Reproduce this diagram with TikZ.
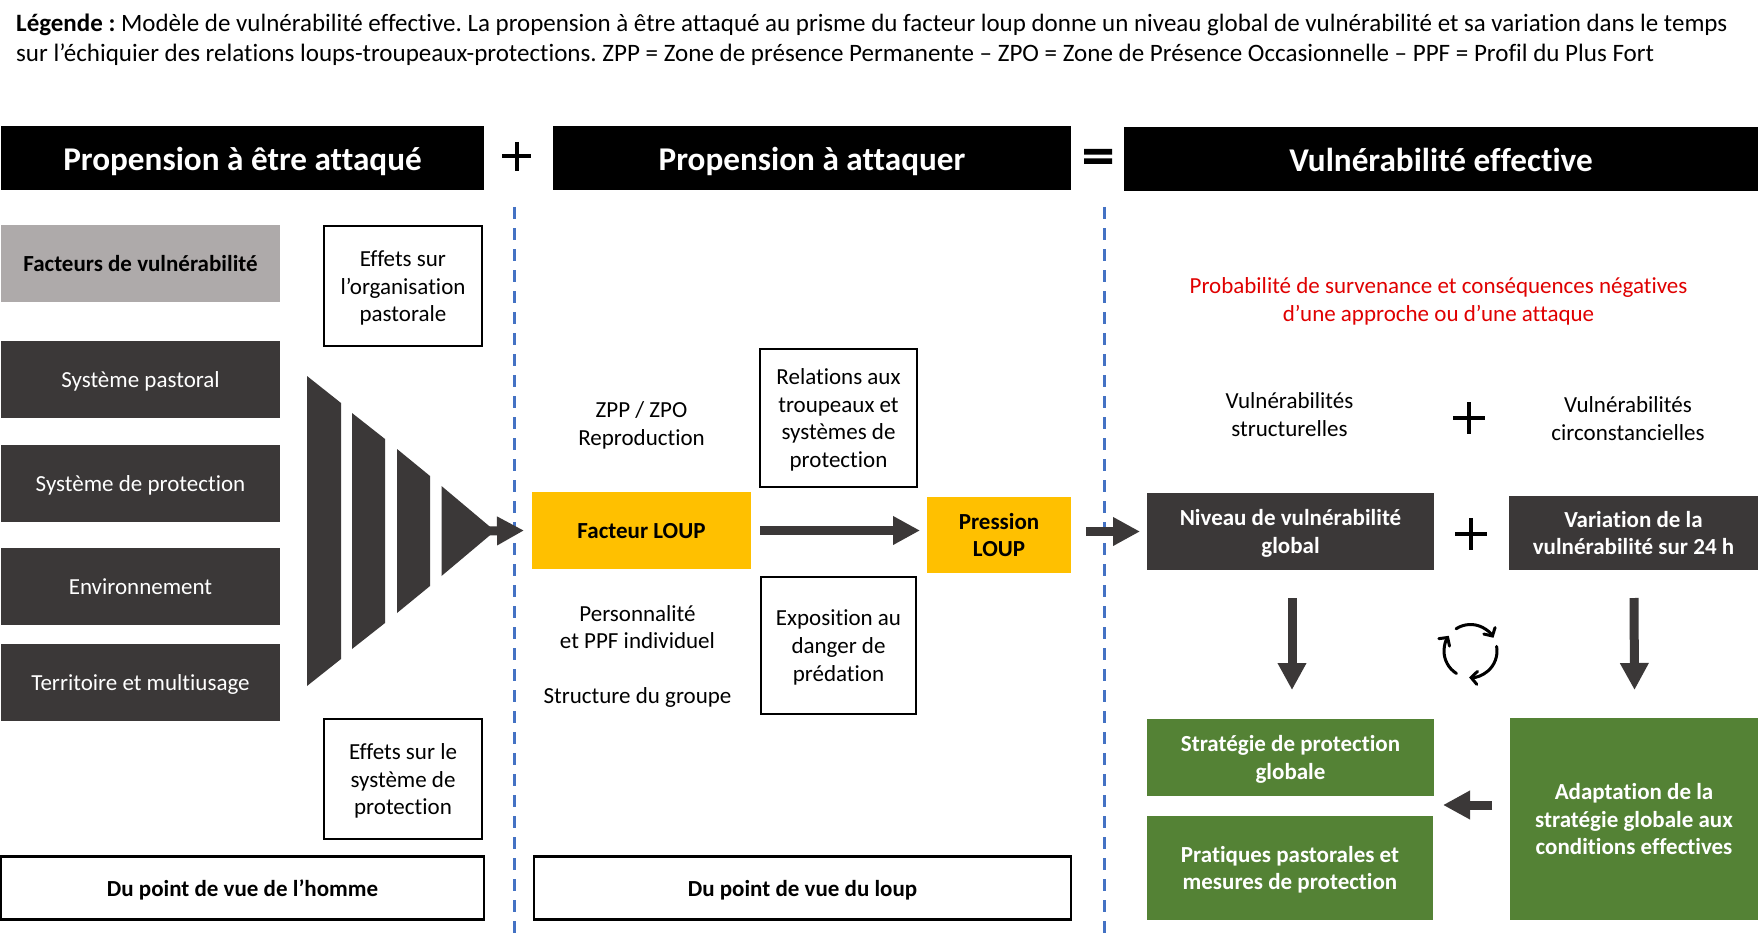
\documentclass[tikz,border=0pt]{standalone}
\usepackage{fontspec}
\setmainfont[Ligatures=NoCommon]{Carlito}
\usetikzlibrary{arrows.meta,calc}
\definecolor{darkbox}{HTML}{3B3838}
\definecolor{graybox}{HTML}{AEAAAA}
\definecolor{loup}{HTML}{FFC000}
\definecolor{greenbox}{HTML}{548235}
\definecolor{dashblue}{HTML}{4472C4}
\definecolor{redtxt}{HTML}{E00000}
\newcommand{\bodyfont}{\frenchspacing\fontsize{23}{27.8}\selectfont}
\tikzset{
  x=1pt,y=-1pt,
  body/.style={font=\bodyfont,align=center,inner sep=0pt,text=black},
  area/.style 2 args={minimum width=#1,minimum height=#2,inner sep=0pt,outer sep=0pt,align=center,
    execute at begin node={\rule{0pt}{21pt}},execute at end node={\rule[-5pt]{0pt}{5pt}}},
  rows/.style={execute at begin node={\rule{0pt}{#1pt}},execute at end node={\rule[-6pt]{0pt}{6pt}}},
  two/.style={rows=49.8},
  three/.style={rows=77.6},
  four/.style={rows=105.4},
  header/.style={fill=black,text=white,font=\fontsize{33.2}{36}\selectfont\bfseries,text height=25pt,text depth=0pt},
  darkb/.style={fill=darkbox,text=white,font=\bodyfont},
  darkbb/.style={fill=darkbox,text=white,font=\bodyfont\bfseries},
  greenb/.style={fill=greenbox,text=white,font=\bodyfont\bfseries},
  yellowb/.style={fill=loup,text=black,font=\bodyfont\bfseries},
  frameb/.style={draw=black,line width=2.4pt,fill=white,text=black,font=\bodyfont},
  frameh/.style={draw=black,line width=2.4pt,fill=white,text=black,font=\bodyfont\bfseries},
  bigarrow/.style={draw=darkbox,line width=9pt,-{Triangle[length=27pt,width=27pt]}},
  legendtxt/.style={anchor=base west,inner sep=0pt,font=\frenchspacing\fontsize{#1}{28}\selectfont},
  dashline/.style={draw=dashblue,line width=2.8pt,dash pattern=on 12pt off 9pt},
  cyc/.style={draw=black,line width=3pt,line cap=round,-{Straight Barb[length=6pt,width=13pt,line cap=round]}},
}
\begin{document}
\begin{tikzpicture}
\useasboundingbox (0,0) rectangle (1758,944);
\fill[white] (0,0) rectangle (1758,944);
% legend
\node[legendtxt=24.98] (leg1) at (16,32) {\textbf{Légende :} Modèle de vulnérabilité effective. La propension à être attaqué au prisme du facteur loup donne un niveau global de vulnérabilité et sa variation dans le temps};
\node[legendtxt=25.05] (leg2) at (16,62) {sur l’échiquier des relations loups-troupeaux-protections. ZPP = Zone de présence Permanente – ZPO = Zone de Présence Occasionnelle – PPF = Profil du Plus Fort};
% headers
\node[area={483}{64},header] (h1) at (242.5,158) {Propension à être attaqué};
\node[area={518}{64},header] (h2) at (812,158.5) {Propension à attaquer};
\node[area={634}{64},header] (h3) at (1441,159) {Vulnérabilité effective};
\draw[line width=4pt,black] (516.5,142) -- (516.5,171) (502,156.5) -- (531,156.5);
\fill[black] (1084,149) rectangle (1112,154.7) (1084,158.3) rectangle (1112,163.8);
% dashed lines
\coordinate (d1t) at (514.4,207); \coordinate (d1b) at (514.4,934);
\coordinate (d2t) at (1104.2,207); \coordinate (d2b) at (1104.2,934);
\draw[dashline] (d1t) -- (d1b);
\draw[dashline] (d2t) -- (d2b);
% left column
\node[area={279}{77},fill=graybox,font=\bodyfont\bfseries] (fv) at (140.5,263.5) {Facteurs de vulnérabilité};
\node[area={279}{77},darkb] (sp) at (140.5,379.5) {Système pastoral};
\node[area={279}{77},darkb] (spr) at (140.5,483.5) {Système de protection};
\node[area={279}{77},darkb] (env) at (140.5,586.5) {Environnement};
\node[area={279}{77},darkb] (tm) at (140.5,682.5) {Territoire et multiusage};
\node[area={158}{120},three,frameb] (eo) at (403,286) {Effets sur\\l’organisation\\pastorale};
\node[area={158}{120},three,frameb] (es) at (403,779) {Effets sur le\\système de\\protection};
\node[area={483}{63},frameh] (ph) at (242.5,888) {Du point de vue de l’homme};
\node[area={537}{63},frameh] (pl) at (802.5,888) {Du point de vue du loup};
% funnel
\fill[darkbox] (307,376) -- (341,403) -- (341,659) -- (307,686) -- cycle;
\fill[darkbox] (352,413) -- (385,439) -- (385,623) -- (352,649) -- cycle;
\fill[darkbox] (397,449) -- (430,476) -- (430,586) -- (397,613) -- cycle;
\fill[darkbox] (441.5,486) -- (495,531) -- (441.5,576) -- cycle;
% middle
\coordinate (fun) at (488,531);
\node[area={219}{77},yellowb] (fl) at (641.5,530.5) {Facteur LOUP};
\draw[bigarrow] (fun) -- ([xshift=-8pt]fl.west);
\node[body] (zpp) at (641.5,425.5) {ZPP / ZPO\\Reproduction};
\node[body] (pers) at (637.5,627) {Personnalité\\et PPF individuel};
\node[body] (stru) at (637.5,697) {Structure du groupe};
\node[area={157}{138},four,frameb] (rel) at (838.5,418) {Relations aux\\troupeaux et\\systèmes de\\protection};
\node[area={155}{137},three,frameb] (expo) at (838.5,645.5) {Exposition au\\danger de\\prédation};
\node[area={144}{76},two,yellowb] (pr) at (999,535) {Pression\\LOUP};
\draw[bigarrow] ([xshift=9pt]fl.east) -- ([xshift=-7pt]pr.west |- fl.east);
% right
\node[body,text=redtxt] (proba) at (1438.5,301.5) {Probabilité de survenance et conséquences négatives\\d’une approche ou d’une attaque};
\node[body] (vs) at (1289.5,414.5) {Vulnérabilités\\structurelles};
\node[body] (vc) at (1628,418.5) {Vulnérabilités\\circonstancielles};
\node[area={287}{77},two,darkbb] (ng) at (1290.5,531.5) {Niveau de vulnérabilité\\global};
\node[area={249}{74},two,darkbb] (va) at (1633.5,533) {Variation de la\\vulnérabilité sur 24 h};
\node[area={287}{77},two,greenb] (sg) at (1290.5,757.5) {Stratégie de protection\\globale};
\node[area={286}{104},two,greenb] (pp) at (1290,868) {Pratiques pastorales et\\mesures de protection};
\node[area={248}{202},three,greenb] (ad) at (1634,819) {Adaptation de la\\stratégie globale aux\\conditions effectives};
\draw[bigarrow] ([xshift=-61pt]ng.west) -- ([xshift=-7pt]ng.west);
\draw[line width=3.8pt,black] (1469,402) -- (1469,434) (1453,418) -- (1485,418);
\draw[line width=3.8pt,black] (1471,518) -- (1471,550) (1455,534) -- (1487,534);
\draw[bigarrow] ([xshift=1.5pt,yshift=-28pt]ng.south) -- ([xshift=1.5pt,yshift=29pt]sg.north);
\draw[bigarrow] ([xshift=.5pt,yshift=-28pt]va.south) -- ([xshift=.5pt,yshift=28pt]ad.north);
\coordinate (midl) at (1443,805);
\draw[bigarrow] ([xshift=-18pt]ad.west |- midl) -- (midl);
% cycle
\coordinate (c) at (1470.5,651);
\draw[cyc] (c) ++(123:26.5pt) arc[start angle=123,end angle=30,radius=26.5pt];
\draw[cyc] (c) ++(10:26.5pt) arc[start angle=10,end angle=-93,radius=26.5pt];
\draw[cyc] (c) ++(-122:26.5pt) arc[start angle=-122,end angle=-215,radius=26.5pt];
\end{tikzpicture}
\end{document}
